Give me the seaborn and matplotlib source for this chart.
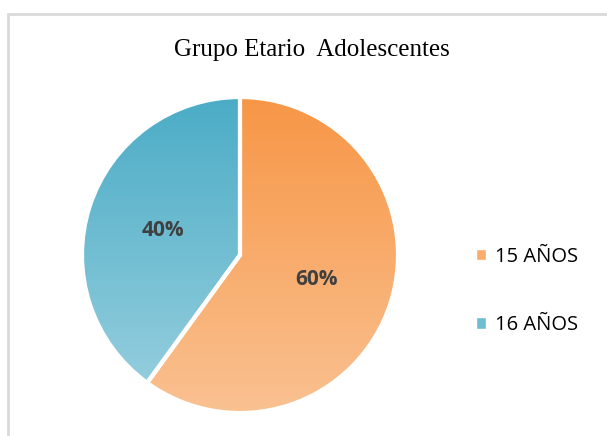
import numpy as np
import matplotlib
matplotlib.use("Agg")
import matplotlib.pyplot as plt
import seaborn as sns
from matplotlib.colors import LinearSegmentedColormap
from matplotlib.patches import Rectangle

sns.set_theme(style="white")
plt.rcParams['font.family'] = ['Open Sans', 'DejaVu Sans']

categories = ["15 AÑOS", "16 AÑOS"]
values = [60, 40]
title = "Grupo Etario  Adolescentes"
top_colors = ["#F79646", "#4BACC6"]
bottom_colors = ["#FAC191", "#93CDDD"]

fig = plt.figure(figsize=(6.07, 4.36), dpi=100)
fig.patch.set_facecolor("white")

# chart border
fig.patches.append(Rectangle((8 / 607, -0.1), 1.2, 1 - 14 / 436 + 0.1,
                             transform=fig.transFigure, fill=False,
                             edgecolor="#D9D9D9", linewidth=2, zorder=0))

cx, cy, r = 240, 255, 158
ax = fig.add_axes([(cx - r) / 607, (436 - cy - r) / 436, 2 * r / 607, 2 * r / 436])
wedges, _, autotexts = ax.pie(values, startangle=90, counterclock=False,
                              colors=top_colors, autopct="%1.0f%%",
                              pctdistance=0.51,
                              wedgeprops=dict(edgecolor="white", linewidth=3),
                              textprops=dict(color="#404040", fontsize=15,
                                             fontweight="bold"))
ax.set_xlim(-1, 1)
ax.set_ylim(-1, 1)
ax.set_aspect("equal")
ax.axis("off")

for w, c0, c1 in zip(wedges, top_colors, bottom_colors):
    cmap = LinearSegmentedColormap.from_list("g", [c1, c0])
    bb = w.get_path().get_extents(w.get_patch_transform())
    grad = np.linspace(0, 1, 256).reshape(-1, 1)
    im = ax.imshow(grad, cmap=cmap, origin="lower", aspect="auto",
                   extent=[-1.05, 1.05, bb.y0, bb.y1], zorder=1,
                   interpolation="bilinear")
    im.set_clip_path(w)
    w.set_facecolor("none")
    w.set_zorder(2)
ax.set_xlim(-1, 1)
ax.set_ylim(-1, 1)
for t in autotexts:
    t.set_zorder(3)

fig.text(312 / 607, 1 - 50 / 436, title, ha="center", va="center",
         fontsize=18, family=["Liberation Serif", "DejaVu Serif"], color="#000000")

# legend
leg_handles = [Rectangle((0, 0), 1, 1, facecolor=c) for c in
               [sns.blend_palette([top_colors[0], bottom_colors[0]], 3)[1],
                sns.blend_palette([top_colors[1], bottom_colors[1]], 3)[1]]]
fig.legend(leg_handles, categories, loc="center left",
           bbox_to_anchor=(458 / 607, 1 - 291 / 436), frameon=False,
           fontsize=14.5, handlelength=0.5, handleheight=0.5,
           handletextpad=0.45, labelspacing=2.4, labelcolor="#000000")

fig.savefig("out.png", dpi=100)
